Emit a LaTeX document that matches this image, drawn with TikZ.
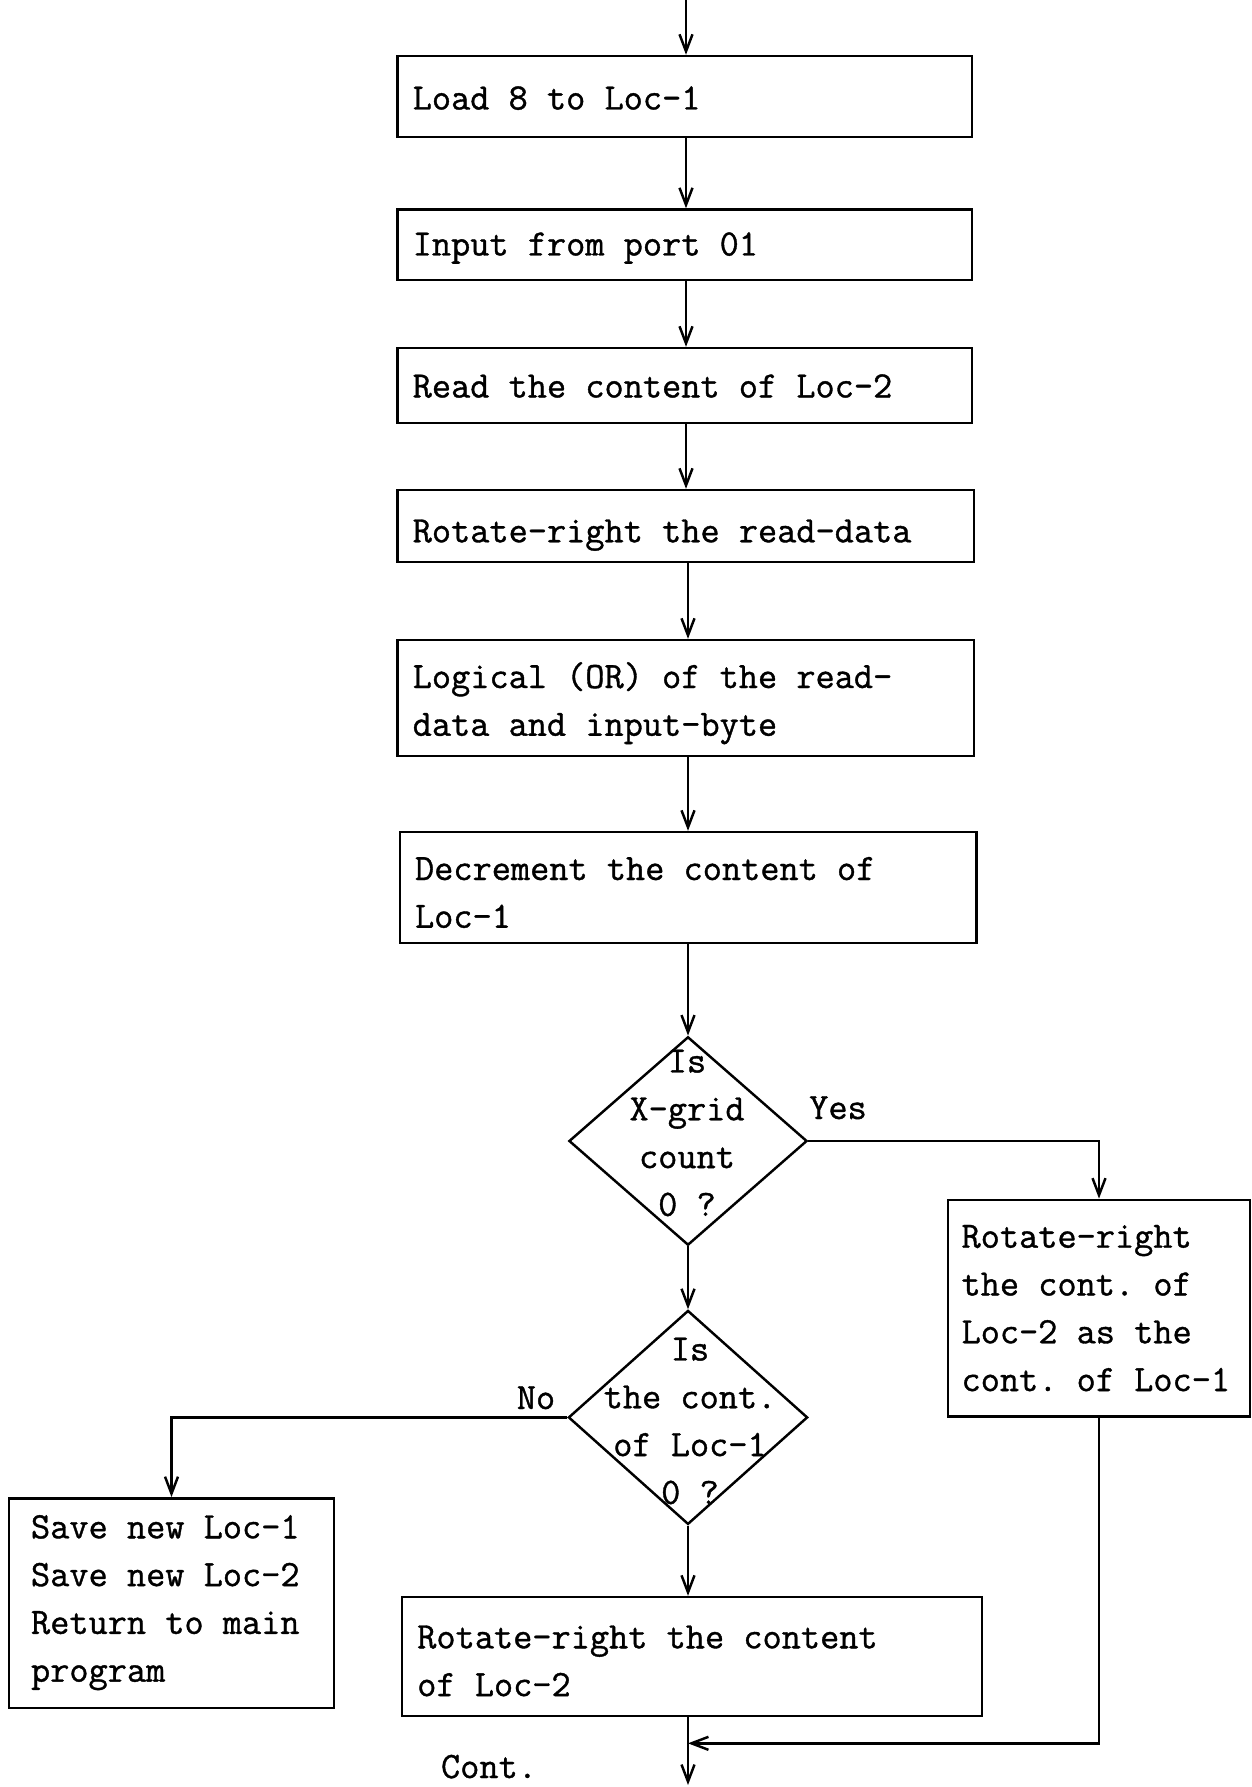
\documentclass[tikz,border=0pt]{standalone}
\usepackage{fontspec}
\usetikzlibrary{arrows.meta,shapes.geometric}
\newfontfamily\typew{Latin Modern Mono}[FakeBold=1.0]
\newcommand\typeface{\fontsize{21.2}{27.2}\typew\frenchspacing}
% word spaces as wide as a glyph (set after the alignment code of the node)
\newcommand\typespaces{\spaceskip=\fontcharwd\font`\x\relax\xspaceskip=\spaceskip}
\begin{document}
\begin{tikzpicture}[x=0.02cm,y=-0.02cm,
  line width=1.4pt,
  txt/.style={font=\typeface, inner sep=0pt, execute at begin node=\typespaces},
  stepbox/.style={txt,draw,rectangle,align=left,anchor=base,inner xsep=0.3cm,inner ysep=0pt},
  decision/.style={draw,diamond,inner sep=0pt},
  arr/.style={-{Straight Barb[length=3.4mm,width=2.6mm]}},
]
\useasboundingbox (0,0) rectangle (1251,1787);
\coordinate (axis) at (688,0);
\coordinate (top) at (686,0);

% main column of processing steps (placed by first baseline)
\node[stepbox, minimum width=11.486cm, text width=10.886cm, text height=1.07cm, text depth=0.55cm] (b1) at (684.8,109.5) {Load 8 to Loc-1};
\node[stepbox, minimum width=11.486cm, text width=10.886cm, text height=0.92cm, text depth=0.49cm] (b2) at (684.8,255.5) {Input from port 01};
\node[stepbox, minimum width=11.486cm, text width=10.886cm, text height=0.99cm, text depth=0.51cm] (b3) at (684.8,397.5) {Read the content of Loc-2};
\node[stepbox, minimum width=11.53cm, text width=10.93cm, text height=1.046cm, text depth=0.394cm] (b4) at (685.9,542.3) {Rotate-right the read-data};
\node[stepbox, minimum width=11.53cm, text width=10.93cm, text height=0.96cm, text depth=1.36cm] (b5) at (685.9,688) {Logical (OR) of the read-\\data and input-byte};
\node[stepbox, minimum width=11.53cm, text width=10.93cm, text height=0.96cm, text depth=1.26cm] (b6) at (688.2,880) {Decrement the content of\\Loc-1};

% decisions
\node[decision, minimum width=4.764cm, minimum height=4.17cm] (d1) at (688,1141) {};
\node[txt, align=center] (d1t) at (687,1133) {Is\\X-grid\\count\\0 ?};
\node[decision, minimum width=4.786cm, minimum height=4.28cm] (d2) at (688,1417.4) {};
\node[txt, align=center] (d2t) at (690,1421) {Is\\the cont.\\of Loc-1\\0 ?};

% branch boxes
\node[stepbox, inner xsep=0.27cm, minimum width=6.04cm, text width=5.5cm, text height=0.958cm, text depth=3.372cm] (r) at (1099,1247.7) {Rotate-right\\the cont. of\\Loc-2 as the\\cont. of Loc-1};
\node[stepbox, inner xsep=0.44cm, minimum width=6.5cm, text width=5.62cm, text height=0.8cm, text depth=3.394cm] (l) at (171.5,1538.3) {Save new Loc-1\\Save new Loc-2\\Return to main\\program};
\node[stepbox, minimum width=11.6cm, text width=11cm, text height=1.026cm, text depth=1.354cm] (b7) at (692.2,1648.3) {Rotate-right the content\\of Loc-2};

% branch labels
\node[txt, anchor=base] (yes) at (838,1119) {Yes};
\node[txt, anchor=base] (no) at (536,1409) {No};
\node[txt, anchor=base] (cont) at (489,1778) {Cont.};

% connectors
\coordinate (m) at (688,1743.3);
\coordinate (end) at (688,1785);
\draw[arr] (top) -- (top |- b1.north);
\draw[arr] (b1.south -| top) -- (b2.north -| top);
\draw[arr] (b2.south -| top) -- (b3.north -| top);
\draw[arr] (b3.south -| top) -- (b4.north -| top);
\draw[arr] (b4.south -| axis) -- (b5.north -| axis);
\draw[arr] (b5.south -| axis) -- (b6.north -| axis);
\draw[arr] (b6.south -| axis) -- (d1.north);
\draw[arr] (d1.south) -- (d2.north);
\draw[arr] (d1.east) -| (r.north);
\draw[arr] (d2.west) -| (l.north);
\draw[arr] (d2.south) -- (d2.south |- b7.north);
\draw[arr] (r.south) |- (m);
\draw[arr] (b7.south -| axis) -- (end);
\end{tikzpicture}
\end{document}
